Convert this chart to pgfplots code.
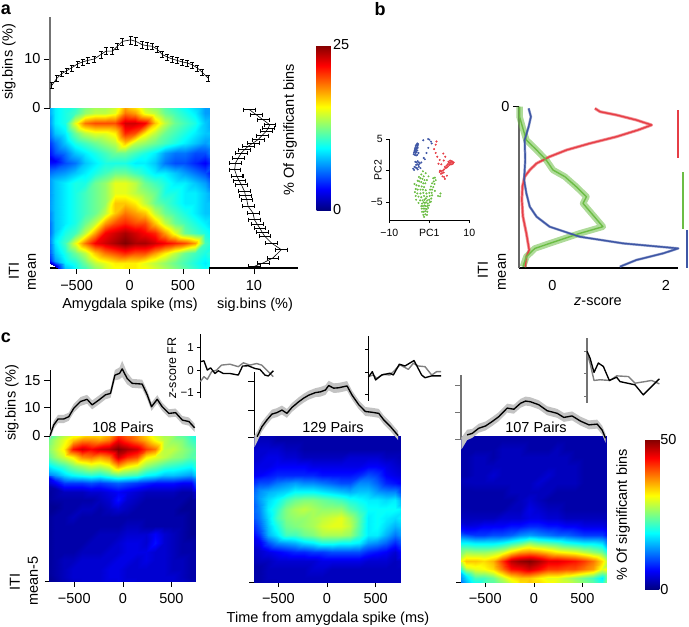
\documentclass[border=0pt]{standalone}
\usepackage{pgfplots}
\pgfplotsset{compat=1.18}
\usepackage{pgfplotstable}
\usepackage{fontspec}
\setmainfont{Liberation Sans}
\definecolor{cblue}{RGB}{62,86,165}
\definecolor{cred}{RGB}{230,62,70}
\definecolor{cgreen}{RGB}{108,189,69}
\definecolor{band}{RGB}{195,195,195}
\newcommand{\fs}{\fontsize{14.5}{16}\selectfont}
\newcommand{\fsm}{\fontsize{10.5}{12}\selectfont}
\newcommand{\fsi}{\fontsize{11.5}{13}\selectfont}
\pgfplotstableread{
x y e
9 1.7 1.3
10.5 6.7 1.3
12 11.7 1.3
13.5 16.7 1.3
13.2 20 1.3
12.7 23.3 1.3
11.8 27.5 1.3
10.9 31.7 1.3
9.8 35 1.3
8.7 38.3 1.3
7.9 41.7 1.3
7.2 45 1.3
6.5 50 1.3
5.9 55 1.3
5.7 61.7 1.3
6.2 68.3 1.3
6.7 72.5 1.3
7.2 76.7 1.3
7.9 83.3 1.3
8.1 87.5 1.3
8.4 91.7 1.3
8.7 98.3 1.3
9.8 105 1.3
10.1 111.7 1.3
10.7 116 1.3
11.3 120 1.3
11.8 124 1.3
12.4 128.3 1.3
13.9 135 1.3
16.1 141.7 1.3
14.2 150 1.3
12 155 1.3
10.1 158.3 1.3
}\aside
\pgfplotstableread{
x y w
-750 0.1 1.1
-711 3 1.1
-667 4.6 1.1
-608 4.6 1.1
-557 5.2 1.1
-505 7.5 1.2
-436 9.3 1.2
-368 9.9 1.2
-316 8.4 1.2
-247 9.7 1.2
-179 11.1 1.2
-127 11.5 1.2
-82 16.4 1.4
-34 16.9 1.6
-7 18.1 2.2
45 15.5 1.6
96 14.2 1.2
199 14 1.2
251 11.1 1.2
295 7.9 1.1
354 9.9 1.1
405 7.9 1.1
474 6.1 1.1
543 6.3 1.1
612 4.3 1.1
680 3.9 1.1
739 2.2 1.1
}\cone
\pgfplotstableread{
x y w
-745 -1.4 1.6
-718 -.2 1.4
-669 2.5 1.3
-618 4.3 1.2
-566 5.9 1.2
-515 6.3 1.2
-463 7 1.2
-412 6.1 1.2
-360 7.7 1.2
-292 9.2 1.2
-240 10.2 1.2
-188 11 1.2
-119 11.7 1.2
-68 11.9 1.3
-16 12.4 1.3
17 13.6 1.3
69 12.9 1.3
120 13 1.3
206 13.5 1.3
258 11 1.2
327 8.4 1.2
395 6.6 1.2
464 6.4 1.2
532 6.1 1.2
584 4.3 1.2
653 2.5 1.2
731 .1 1.2
}\ctwo
\pgfplotstableread{
x y w
-745 -2 1.6
-687 .3 1.4
-635 .7 1.2
-567 2.1 1.2
-497 2.7 1.2
-429 3.9 1.2
-361 5.2 1.2
-275 7.5 1.2
-206 7.2 1.2
-137 8.8 1.2
-85 9.4 1.2
-34 9.2 1.2
51 8.4 1.2
137 6.8 1.2
240 6.1 1.2
309 5 1.2
394 5.4 1.2
481 4 1.2
567 3 1.2
652 3.2 1.2
703 1.6 1.2
738 -.6 1.2
}\cthree
\pgfplotsset{
  base/.style={scale only axis, tick align=outside, major tick length=6pt,
    tick style={black,line width=.7pt}, axis line style={-,line width=.8pt},
    tick label style={font=\fs}, enlargelimits=false, minor tick num=0,
    every x tick label/.append style={yshift=-3pt}},
  heat/.style={base, colormap/jet, axis x line*=bottom, axis y line*=left,
    major tick length=5pt,
    xmin=-750, xmax=750, xtick={-500,0,500}, xticklabels={−500,0,500}, ytick=\empty},
  hs/.style={matrix plot*, shader=interp, draw=none, mesh/cols=17, point meta=explicit},
  table/hx/.style={row sep=crcr, header=false, meta index=0,
    x expr={mod(\coordindex,17)*93.75-750}, y expr={#1-floor(\coordindex/17)}},
  curve/.style={base, axis y line*=left, axis x line=none, xmin=-750, xmax=750, clip=false,
    yticklabel style={font=\fs}},
  ins/.style={base, axis y line*=left, axis x line=none, xmin=-750, xmax=750, clip=false,
    major tick length=3pt, tick label style={font=\fsi}},
  blk/.style={black, line width=1.35pt, line join=round, no marks},
  gry/.style={black!50, line width=1.4pt, line join=round, no marks},
  ebar/.style={black, line width=.6pt, no marks},
  lin/.style={line width=1.4pt, no marks, line join=round},
  lband/.style={line width=#1, no marks, line join=round, opacity=.55},
  pt/.style={only marks, mark=*, mark size=.8pt},
}
\newcommand{\bandof}[1]{%
  \addplot[draw=none, no marks, stack plots=y, forget plot] table[x=x, y expr=\thisrow{y}-\thisrow{w}]{#1};
  \addplot[draw=none, fill=band, no marks, stack plots=y, forget plot] table[x=x, y expr=2*\thisrow{w}]{#1} \closedcycle;
}
\begin{document}
\begin{tikzpicture}
\useasboundingbox (0,0) rectangle (689pt,-627pt);

% ---------- panel a heat map
\begin{axis}[heat, at={(50pt,-268pt)}, anchor=south west, width=159.5pt, height=160pt,
  ymin=0, ymax=16, point meta min=0, point meta max=25, major tick length=6pt,
  axis x line*=bottom, axis y line=none, x axis line style={line width=1.3pt},
  colorbar, colorbar style={at={(parent axis.south west)}, anchor=south west,
    xshift=258pt, yshift=58pt, scale only axis, width=18pt, height=165pt,
    ytick={0,25}, yticklabels={0,25}, major tick length=0pt, tick label style={font=\fs},
    axis line style={draw=none}, yticklabel style={xshift=-5pt}}]
\addplot[hs] table[hx=16]{
7\\9\\10\\10\\12\\13\\13\\14\\17\\15\\13\\12\\11\\10\\9\\8\\7\\
6\\9\\10\\11\\13\\14\\14\\15\\19\\18\\15\\14\\12\\11\\10\\9\\7\\
5\\9\\10\\15\\19\\20\\20\\20\\23\\23\\22\\17\\14\\12\\11\\10\\8\\
4\\8\\9\\12\\14\\15\\15\\16\\21\\20\\16\\14\\12\\11\\10\\9\\8\\
3\\6\\8\\10\\11\\12\\13\\14\\17\\14\\13\\12\\11\\10\\9\\8\\7\\
2\\5\\6\\8\\9\\10\\11\\12\\12\\11\\10\\9\\7\\6\\6\\5\\5\\
2\\3\\5\\6\\8\\9\\10\\10\\10\\9\\9\\8\\6\\5\\5\\4\\3\\
4\\6\\7\\8\\9\\10\\11\\12\\12\\11\\10\\9\\9\\8\\7\\6\\5\\
6\\8\\9\\10\\10\\12\\13\\15\\15\\14\\12\\11\\10\\9\\9\\8\\7\\
6\\8\\9\\10\\11\\12\\13\\15\\15\\14\\13\\12\\10\\10\\9\\9\\8\\
6\\8\\9\\10\\11\\12\\13\\17\\17\\16\\14\\12\\11\\10\\9\\9\\8\\
6\\8\\9\\10\\11\\12\\14\\17\\19\\18\\17\\14\\12\\11\\10\\9\\8\\
5\\8\\9\\10\\12\\14\\18\\20\\21\\20\\20\\17\\14\\12\\11\\10\\9\\
4\\8\\10\\11\\14\\18\\22\\23\\24\\23\\22\\21\\18\\15\\12\\11\\10\\
4\\9\\11\\15\\19\\22\\23\\24\\25\\24\\24\\23\\22\\21\\20\\18\\11\\
3\\8\\10\\12\\14\\17\\19\\20\\21\\20\\20\\18\\16\\14\\12\\11\\10\\
2\\7\\9\\10\\12\\14\\15\\16\\16\\16\\15\\14\\13\\12\\11\\10\\9\\
};
\end{axis}

% panel a top curve
\begin{axis}[curve, at={(50pt,-108pt)}, anchor=south west, width=159.5pt, height=91.5pt,
  ymin=0, ymax=18.67, ytick={0,10}, yticklabels={0,10},
  y axis line style={draw=black!55,line width=1.3pt}]
\addplot[ebar, error bars/.cd, y dir=both, y explicit,
  error bar style={line width=.5pt}, error mark options={rotate=90,mark size=2pt,line width=.5pt}]
 coordinates {
(-734,4.6)+-(0,.6) (-687,6)+-(0,.6) (-641,7)+-(0,.6) (-594,7.6)+-(0,.6) (-547,8.2)+-(0,.6)
(-491,9)+-(0,.6) (-444,9.4)+-(0,.6) (-397,9.7)+-(0,.6) (-334,10)+-(0,.6) (-272,10.9)+-(0,.7)
(-225,11.6)+-(0,.7) (-163,11.6)+-(0,.7) (-116,12.6)+-(0,.7) (-69,13.6)+-(0,.7) (9,13.9)+-(0,.8)
(56,13.6)+-(0,.8) (119,12.9)+-(0,.8) (166,12.7)+-(0,.7) (212,12.6)+-(0,.7) (259,12)+-(0,.7)
(306,10.9)+-(0,.6) (353,10.4)+-(0,.6) (400,10)+-(0,.6) (447,9.7)+-(0,.6) (494,9.4)+-(0,.6)
(541,9.2)+-(0,.6) (588,8.8)+-(0,.6) (634,8.2)+-(0,.6) (681,7.3)+-(0,.6) (738,6.1)+-(0,.6)
};
\end{axis}

% panel a side curve
\begin{axis}[base, at={(209pt,-268pt)}, anchor=south west, width=89pt, height=160pt,
  xmin=0, xmax=19.8, ymin=0, ymax=160, y dir=reverse, clip=false,
  axis x line*=bottom, axis y line=none, x axis line style={line width=1.3pt},
  xtick={0,10}, xticklabels={,10}]
\addplot[ebar, error bars/.cd, x dir=both, x explicit, error bar style={line width=.5pt}]
  table[x=x, y=y, x error=e]{\aside};
\addplot[only marks, mark=|, mark size=2pt, black, mark options={line width=.5pt}]
  table[x expr=\thisrow{x}-\thisrow{e}, y=y]{\aside};
\addplot[only marks, mark=|, mark size=2pt, black, mark options={line width=.5pt}]
  table[x expr=\thisrow{x}+\thisrow{e}, y=y]{\aside};
\end{axis}

% ---------- panel b scatter
\begin{axis}[base, at={(389.3pt,-220pt)}, anchor=south west, width=80pt, height=81pt,
  xmin=-10, xmax=10, ymin=-7.8, ymax=5, clip=false,
  axis x line*=bottom, axis y line*=left, major tick length=3pt,
  tick label style={font=\fsm}, xtick={-10,0,10}, xticklabels={−10,PC1,10},
  ytick={-5,0,5}, yticklabels={−5,,5}]
\addplot[pt, cblue] coordinates {
(-3.0,4.3)(-2.8,4.2)(-3.2,4.1)(-3.0,4.0)(-3.4,3.9)(-2.9,3.9)(-3.1,3.7)(-3.5,3.6)(-3.2,3.5)(-2.9,3.6)
(-3.6,3.4)(-3.3,3.3)(-3.7,3.1)(-3.4,3.1)(-3.0,3.2)(-3.8,2.9)(-3.5,2.8)(-3.2,2.9)(-3.9,2.6)(-3.6,2.5)
(-3.0,2.5)(-3.3,2.4)(-2.7,2.8)(-1.5,4.8)(-.3,5.0)(0,4.9)(.4,4.6)(.6,4.3)(-.7,2.8)(-1.1,1.8)(-1.4,2.0)
(-.25,3.6)(-3.5,1.4)(-3.2,1.3)(-2.9,1.5)(-2.6,1.3)(-3.0,1.0)(-3.3,.9)(-2.7,.9)(-2.4,1.1)(-3.7,.6)
(-3.4,.5)(-3.1,.4)(-2.6,.6)(-2.2,.4)(-4.0,.3)(-3.8,.1)(-2.9,.2)(-2.0,1.3)};
\addplot[pt, cred] coordinates {
(1.8,4.6)(1.6,4.1)(1.2,3.4)(1.6,2.8)(3.5,2.7)(4.0,2.2)(2.0,2.2)(2.6,1.7)(3.6,1.6)(2.3,1.1)(3.0,1.0)
(4.3,.8)(4.6,1.0)(4.9,1.2)(5.2,1.3)(5.5,1.4)(5.8,1.4)(6.1,1.3)(5.9,1.1)(5.6,1.0)(5.3,1.0)(5.0,.9)
(4.7,.7)(4.4,.5)(4.1,.4)(3.9,.6)(4.8,1.4)(5.2,1.6)(5.6,1.5)(3.7,.2)(3.4,.0)(3.0,-.1)(2.7,0)(3.2,-.4)
(3.6,-.3)(2.9,-.5)(3.3,-.9)(3.7,-1)(3.9,-1.3)(4.4,-.8)(2.6,-.2)};
\addplot[pt, cgreen] coordinates {
(-1.6,-.1)(-.9,-.4)(-2.0,-.6)(-1.4,-.9)(-.2,-.9)(-2.6,-1.0)(-2.2,-1.2)(-1.7,-1.3)(-1.2,-1.5)(-.6,-1.5)
(1.4,-1.1)(1.0,-1.2)(1.6,-1.5)(-2.9,-1.6)(-2.5,-1.7)(-2.0,-1.8)(-1.5,-2)(-1,-2)(1.1,-1.7)(.7,-2)(1.3,-2.1)
(-3.7,-2.1)(-3.2,-2.3)(-2.6,-2.4)(-1.9,-2.5)(-1.3,-2.6)(.4,-2.5)(1,-2.6)(-3.4,-2.9)(-2.9,-3)(-2.2,-3)
(-1.6,-3)(-.9,-3.1)(.2,-3)(.7,-3)(1.4,-3.2)(-3.6,-3.4)(-3,-3.6)(-2.2,-3.6)(-1.5,-3.5)(-.7,-3.6)(0,-3.5)
(.6,-3.5)(2.8,-3.6)(-3.4,-4)(-2.7,-4.1)(-2,-4.2)(-1.3,-4)(-.6,-4.1)(.1,-4)(.7,-3.9)(2.2,-4)(-3.3,-4.6)
(-2.3,-4.7)(-1.7,-4.7)(-1.2,-4.6)(-.9,-4.4)(-.5,-4.7)(0,-4.6)(.5,-4.4)(2.7,-4.05)(-2.7,-5.1)(-1.8,-5.2)
(-1.4,-5.0)(-1.1,-5.1)(-.8,-5)(-.4,-5.2)(.1,-5)(.4,-4.9)(-2,-5.6)(-1.6,-5.6)(-1.2,-5.5)(-.9,-5.6)(-.5,-5.6)
(-.1,-5.5)(-1.9,-6)(-1.5,-6)(-1.1,-6)(-.7,-6.1)(-.3,-5.9)(-1.8,-6.5)(-1.4,-6.5)(-1,-6.4)(-.5,-6.5)
(-1.5,-7)(-1,-6.9)(-.6,-7)(-1.3,-7.3)};
\end{axis}

% panel b profiles
\begin{axis}[base, at={(519pt,-268pt)}, anchor=south west, width=159pt, height=161.3pt,
  xmin=-.59, xmax=2.215, ymin=0, ymax=161.3, y dir=reverse, clip=false,
  axis x line*=bottom, axis y line*=left,
  x axis line style={line width=1.3pt}, y axis line style={draw=black!60,line width=1.3pt},
  xtick={0,2}, xticklabels={0,2}, ytick={0}, yticklabels={0}, major tick length=6pt,
  xtick style={draw=none}]
\addplot[lband=3pt, cred] coordinates {(.75,1.7)(.84,5)(1.13,8.3)(1.48,13.3)(1.75,18.3)(1.51,23.3)(1.13,30)(.66,36.7)(.25,43.3)(-.05,50)(-.28,56.7)(-.4,63.3)(-.49,70)(-.53,80)(-.54,93.3)(-.52,110)(-.46,126.7)(-.41,143.3)(-.46,150)(-.48,160)};
\addplot[lband=6.5pt, cgreen] coordinates {(-.58,0)(-.58,10)(-.53,20)(-.46,33.3)(-.28,43.3)(-.11,53.3)(.01,63.3)(.22,70)(.42,80)(.6,90)(.54,96.7)(.69,106.7)(.89,120)(.48,126.7)(.13,133.3)(-.31,141.7)(-.46,150)(-.52,160)};
\addplot[lband=2.5pt, cblue] coordinates {(-.42,1.7)(-.38,10)(-.42,20)(-.49,33.3)(-.48,53.3)(-.5,73.3)(-.46,86.7)(-.4,100)(-.28,110)(-.05,120)(.48,130)(1.25,136.7)(2.22,141.7)(1.95,146.7)(1.48,153.3)(1.19,160)};
\addplot[lin, cred] coordinates {(.75,1.7)(.84,5)(1.13,8.3)(1.48,13.3)(1.75,18.3)(1.51,23.3)(1.13,30)(.66,36.7)(.25,43.3)(-.05,50)(-.28,56.7)(-.4,63.3)(-.49,70)(-.53,80)(-.54,93.3)(-.52,110)(-.46,126.7)(-.41,143.3)(-.46,150)(-.48,160)};
\addplot[lin, cgreen] coordinates {(-.58,0)(-.58,10)(-.53,20)(-.46,33.3)(-.28,43.3)(-.11,53.3)(.01,63.3)(.22,70)(.42,80)(.6,90)(.54,96.7)(.69,106.7)(.89,120)(.48,126.7)(.13,133.3)(-.31,141.7)(-.46,150)(-.52,160)};
\addplot[lin, cblue] coordinates {(-.42,1.7)(-.38,10)(-.42,20)(-.49,33.3)(-.48,53.3)(-.5,73.3)(-.46,86.7)(-.4,100)(-.28,110)(-.05,120)(.48,130)(1.25,136.7)(2.22,141.7)(1.95,146.7)(1.48,153.3)(1.19,160)};
\addplot[cred, line width=2pt, no marks] coordinates {(2.22,3.3)(2.22,51.3)};
\addplot[cgreen, line width=2pt, no marks] coordinates {(2.30,65.3)(2.30,122.3)};
\addplot[cblue, line width=2pt, no marks] coordinates {(2.38,123.3)(2.38,161.3)};
\end{axis}

% ---------- panel c heat maps
\begin{axis}[heat, at={(50pt,-581.5pt)}, anchor=south west, width=145.7pt, height=145.5pt,
  ymin=0, ymax=17, point meta min=0, point meta max=50, ytick={0}, yticklabels={}]
\addplot[hs] table[hx=17]{
20\\22\\26\\28\\28\\30\\30\\33\\39\\37\\36\\32\\28\\26\\26\\22\\20\\
23\\27\\30\\34\\37\\37\\36\\38\\44\\41\\38\\35\\31\\28\\26\\25\\22\\
24\\28\\32\\43\\46\\44\\46\\47\\50\\48\\46\\41\\38\\28\\28\\26\\24\\
22\\26\\29\\32\\37\\38\\36\\38\\46\\42\\40\\32\\30\\28\\26\\25\\23\\
17\\20\\22\\25\\27\\29\\28\\30\\36\\32\\30\\26\\24\\22\\21\\20\\19\\
12\\14\\17\\19\\20\\21\\20\\22\\24\\23\\22\\19\\18\\16\\16\\15\\14\\
5\\7\\9\\9\\9\\10\\9\\10\\11\\10\\9\\8\\7\\7\\7\\6\\6\\
2\\2\\3\\3\\3\\4\\4\\5\\6\\5\\4\\3\\3\\3\\3\\2\\2\\
1\\2\\2\\2\\2\\2\\3\\4\\7\\4\\3\\2\\2\\2\\2\\2\\1\\
1\\1\\2\\2\\3\\3\\2\\3\\4\\3\\2\\2\\2\\2\\2\\1\\1\\
1\\2\\2\\3\\2\\2\\2\\2\\2\\2\\2\\2\\2\\2\\2\\2\\1\\
1\\2\\2\\2\\2\\2\\2\\2\\2\\3\\3\\2\\2\\2\\2\\2\\1\\
1\\2\\2\\2\\2\\2\\3\\3\\3\\4\\4\\4\\6\\4\\3\\2\\1\\
1\\2\\2\\2\\2\\3\\3\\3\\4\\5\\5\\4\\7\\4\\3\\2\\2\\
1\\2\\2\\2\\3\\3\\3\\4\\4\\5\\5\\5\\4\\4\\3\\2\\2\\
1\\2\\3\\3\\4\\4\\4\\4\\5\\5\\4\\5\\4\\4\\3\\3\\2\\
1\\2\\3\\4\\4\\4\\4\\5\\5\\4\\4\\4\\4\\4\\3\\3\\2\\
1\\2\\3\\4\\4\\4\\4\\5\\5\\4\\4\\4\\4\\4\\4\\3\\2\\
};
\end{axis}

\begin{axis}[heat, at={(254pt,-582pt)}, anchor=south west, width=146pt, height=146pt,
  ymin=0, ymax=17, point meta min=0, point meta max=50, ytick={0}, yticklabels={}]
\addplot[hs] table[hx=17]{
2\\2\\2\\2\\2\\2\\2\\2\\2\\2\\2\\2\\2\\2\\2\\2\\2\\
2\\3\\3\\2\\2\\2\\2\\2\\2\\2\\2\\2\\2\\2\\2\\2\\2\\
3\\4\\4\\4\\3\\3\\2\\2\\2\\2\\2\\2\\2\\2\\2\\2\\2\\
4\\4\\5\\5\\4\\4\\3\\3\\3\\3\\3\\4\\4\\4\\4\\3\\3\\
4\\5\\5\\6\\6\\6\\6\\5\\5\\5\\5\\5\\5\\6\\6\\5\\4\\
5\\6\\7\\8\\8\\8\\8\\8\\7\\7\\7\\7\\8\\10\\9\\6\\5\\
6\\9\\10\\12\\13\\14\\13\\13\\12\\11\\10\\10\\13\\13\\11\\8\\7\\
8\\13\\15\\16\\17\\19\\19\\19\\18\\17\\16\\15\\16\\16\\14\\13\\13\\
10\\14\\17\\19\\22\\24\\25\\25\\24\\23\\22\\20\\19\\18\\18\\17\\18\\
9\\13\\18\\21\\25\\27\\28\\27\\26\\26\\26\\23\\21\\19\\19\\19\\19\\
9\\12\\17\\22\\25\\26\\26\\27\\28\\29\\30\\27\\23\\18\\19\\18\\17\\
8\\11\\16\\20\\24\\25\\26\\27\\29\\30\\30\\28\\23\\18\\19\\17\\15\\
6\\9\\15\\18\\22\\22\\24\\25\\27\\27\\27\\26\\22\\18\\18\\15\\12\\
4\\6\\10\\13\\14\\15\\17\\18\\20\\20\\19\\19\\18\\14\\13\\11\\8\\
3\\4\\5\\6\\7\\8\\8\\9\\9\\10\\10\\10\\10\\8\\7\\6\\4\\
2\\3\\3\\4\\4\\4\\4\\4\\5\\5\\5\\5\\5\\4\\4\\4\\3\\
2\\2\\3\\3\\3\\3\\3\\4\\4\\3\\3\\3\\3\\3\\3\\3\\3\\
2\\2\\3\\3\\3\\3\\3\\3\\3\\3\\3\\3\\3\\3\\3\\3\\3\\
};
\end{axis}

\begin{axis}[heat, at={(461pt,-582pt)}, anchor=south west, width=145.7pt, height=146pt,
  ymin=0, ymax=17, point meta min=0, point meta max=50, ytick={0}, yticklabels={},
  y axis line style={draw=black!55},
  colorbar, colorbar style={at={(parent axis.south west)}, anchor=south west,
    xshift=175.7pt, yshift=-7.3pt, scale only axis, width=16.6pt, height=150pt,
    ytick={0,50}, yticklabels={0,50}, major tick length=0pt, tick label style={font=\fs},
    axis line style={draw=none}, yticklabel style={xshift=-5pt}}]
\addplot[hs] table[hx=17]{
2\\2\\2\\2\\2\\2\\2\\2\\2\\2\\2\\2\\2\\2\\2\\2\\2\\
2\\2\\2\\2\\2\\2\\2\\2\\2\\2\\2\\2\\2\\2\\2\\2\\2\\
2\\2\\2\\2\\2\\3\\3\\3\\2\\2\\2\\3\\2\\2\\2\\2\\2\\
2\\2\\3\\3\\2\\3\\3\\3\\3\\3\\3\\3\\3\\2\\2\\2\\2\\
2\\2\\3\\3\\3\\3\\3\\3\\3\\3\\3\\3\\3\\3\\2\\2\\2\\
2\\2\\3\\3\\4\\3\\3\\3\\3\\3\\4\\3\\3\\3\\2\\2\\2\\
2\\3\\3\\3\\3\\3\\3\\3\\3\\4\\3\\3\\3\\3\\2\\2\\2\\
2\\2\\2\\2\\2\\2\\3\\3\\3\\3\\3\\2\\2\\2\\2\\2\\2\\
2\\2\\2\\2\\2\\2\\2\\3\\4\\3\\2\\2\\2\\2\\2\\2\\2\\
2\\2\\2\\2\\2\\2\\3\\3\\5\\4\\3\\3\\2\\2\\2\\2\\2\\
3\\3\\3\\3\\3\\4\\4\\4\\5\\5\\4\\4\\3\\3\\3\\3\\3\\
4\\4\\5\\6\\6\\6\\7\\7\\8\\8\\7\\7\\6\\6\\5\\5\\5\\
7\\8\\9\\9\\10\\10\\11\\13\\14\\13\\12\\11\\11\\10\\9\\9\\9\\
14\\17\\18\\18\\18\\19\\21\\23\\26\\24\\23\\22\\20\\19\\18\\18\\17\\
21\\25\\26\\26\\27\\29\\33\\36\\37\\36\\34\\32\\31\\30\\28\\26\\24\\
28\\34\\34\\33\\35\\41\\47\\49\\50\\48\\45\\45\\44\\43\\41\\38\\33\\
22\\30\\30\\31\\33\\38\\43\\44\\46\\44\\41\\41\\40\\40\\38\\36\\30\\
13\\18\\22\\22\\24\\28\\32\\34\\34\\32\\30\\30\\28\\26\\24\\22\\18\\
};
\end{axis}

% panel c top curves
\begin{axis}[curve, at={(50pt,-436pt)}, anchor=south west, width=145.7pt, height=66pt,
  ymin=0, ymax=17.8, ytick={0,7.64,15}, yticklabels={0,10,15}]
\bandof{\cone}
\addplot[blk, stack plots=false] table[x=x,y=y]{\cone};
\end{axis}

\begin{axis}[curve, at={(254pt,-437.3pt)}, anchor=south west, width=146pt, height=65.3pt,
  ymin=-.35, ymax=17.25, ytick={-.35,7,14.6}, yticklabels={}, tick style={draw=black}]
\bandof{\ctwo}
\addplot[blk, stack plots=false, skip coords between index={0}{1}] table[x=x,y=y]{\ctwo};
\end{axis}

\begin{axis}[curve, at={(461pt,-439pt)}, anchor=south west, width=145.7pt, height=64pt,
  ymin=-.8, ymax=16.4, ytick={-.8,6.3,13.5}, yticklabels={},
  y axis line style={draw=black!55,line width=1.1pt}, tick style={draw=black!55}]
\bandof{\cthree}
\addplot[blk, stack plots=false, skip coords between index={0}{1}] table[x=x,y=y]{\cthree};
\end{axis}

% insets
\begin{axis}[ins, at={(200.3pt,-398pt)}, anchor=south west, width=73pt, height=64pt,
  ymin=-1.23, ymax=1.59, ytick={-1,0,1}, yticklabels={−1,0,1}]
\addplot[gry] coordinates {(-750,-.51)(-675,-.29)(-606,-.41)(-517,-.07)(-414,0)(-312,.22)(-140,.26)(31,.15)(134,.32)(270,.22)(408,.29)(510,.22)(613,0)(750,-.29)};
\addplot[blk] coordinates {(-750,.37)(-675,.41)(-606,0)(-538,.1)(-449,-.15)(-380,-.03)(-277,-.15)(-140,-.15)(31,-.22)(118,.18)(236,.19)(373,.07)(476,.03)(579,-.22)(647,-.26)(750,-.03)};
\end{axis}
\begin{axis}[ins, at={(368.3pt,-400.7pt)}, anchor=south west, width=72.7pt, height=64.7pt,
  ymin=-1.26, ymax=1.61, ytick={-1,0,1}, yticklabels={}]
\addplot[gry] coordinates {(-750,-.19)(-647,-.12)(-578,-.27)(-440,-.09)(-303,-.12)(-200,.1)(-96,.33)(76,.13)(179,.4)(282,.28)(420,.25)(557,-.12)(661,.03)(750,.03)};
\addplot[blk] coordinates {(-750,-.22)(-667,.03)(-599,-.34)(-475,-.12)(-303,-.04)(-234,-.12)(-110,.36)(7,.28)(193,.52)(351,-.12)(420,-.24)(557,-.16)(750,-.16)};
\end{axis}
\begin{axis}[ins, at={(587pt,-402.7pt)}, anchor=south west, width=73pt, height=64.7pt,
  ymin=-1.26, ymax=1.56, ytick={-1,0,1}, yticklabels={},
  y axis line style={draw=black!55,line width=1.1pt}, tick style={draw=black!55}]
\addplot[gry] coordinates {(-750,.9)(-688,.47)(-606,-.29)(-483,-.26)(-277,-.29)(-140,-.09)(99,-.12)(236,-.41)(442,-.34)(578,-.29)(737,-.44)};
\addplot[blk] coordinates {(-750,.98)(-688,.69)(-606,.06)(-517,.47)(-414,.32)(-291,-.29)(-140,-.15)(-72,-.34)(236,-.48)(407,-.92)(578,-.55)(737,-.22)};
\end{axis}

% ---------- text
\tikzset{tx/.style={font=\fs, inner sep=0pt}, txr/.style={font=\fs, inner sep=0pt, rotate=90}}
\node[font=\bfseries\fontsize{18}{20}\selectfont, inner sep=0pt] at (6pt,-10pt) {a};
\node[font=\bfseries\fontsize{18}{20}\selectfont, inner sep=0pt] at (380pt,-9pt) {b};
\node[font=\bfseries\fontsize{18}{20}\selectfont, inner sep=0pt] at (6pt,-338pt) {c};
% a
\node[txr] at (9pt,-62pt) {sig.bins (\%)};
\node[txr] at (14pt,-271pt) {ITI};
\node[txr] at (32pt,-272pt) {mean};
\node[tx] at (130pt,-305pt) {Amygdala spike (ms)};
\node[tx] at (255pt,-305pt) {sig.bins (\%)};
\node[txr] at (290pt,-130pt) {\% Of significant bins};
% b
\node[font=\fsm, inner sep=0pt, rotate=90] at (378pt,-170pt) {PC2};
\node[txr] at (483pt,-270pt) {ITI};
\node[txr] at (502pt,-272pt) {mean};
\node[tx] at (598pt,-302pt) {\textit{z}-score};
% c
\node[txr] at (12pt,-403pt) {sig.bins (\%)};
\node[txr] at (15pt,-582pt) {ITI};
\node[txr] at (33pt,-581pt) {mean-5};
\node[tx] at (123pt,-427pt) {108 Pairs};
\node[tx] at (333pt,-427pt) {129 Pairs};
\node[tx] at (536pt,-427pt) {107 Pairs};
\node[tx] at (328pt,-619pt) {Time from amygdala spike (ms)};
\node[txr] at (623pt,-515pt) {\% Of significant bins};
\node[font=\fontsize{12.5}{14}\selectfont, inner sep=0pt, rotate=90] at (172pt,-368pt) {\textit{z}-score FR};
\end{tikzpicture}
\end{document}
